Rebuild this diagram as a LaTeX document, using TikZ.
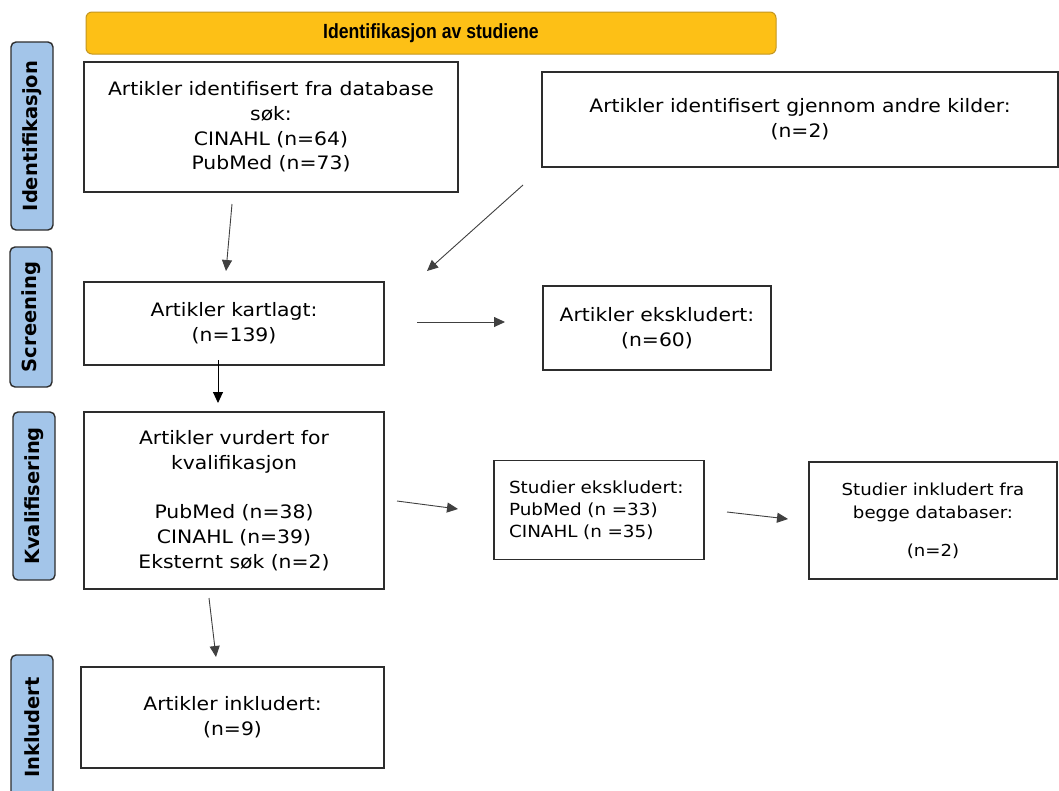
\documentclass[tikz,border=0pt]{standalone}
\usepackage{fontspec}
\setmainfont[FakeStretch=1.1]{DejaVu Sans}
\newfontfamily\phasefont{DejaVu Sans}
\newfontfamily\bannerfont[FakeStretch=0.86]{Liberation Sans}
\usepackage{tikz}
\usetikzlibrary{arrows.meta,positioning,calc}
\definecolor{prisyellow}{RGB}{253,192,22}
\definecolor{prisgold}{RGB}{196,150,30}
\definecolor{prisblue}{RGB}{163,197,233}
\definecolor{prisline}{RGB}{45,45,45}

\begin{document}
\begin{tikzpicture}[
    x=1pt, y=-1pt,
    >={Triangle[length=11pt,width=10pt]},
    box/.style={draw=prisline, line width=1.4pt, align=center, inner sep=0pt, font=\fontsize{18.5}{24.7}\selectfont},
    phase/.style={draw=prisline, line width=1.4pt, fill=prisblue, rounded corners=5pt, rotate=90, inner sep=0pt, minimum height=42pt, font=\phasefont\bfseries\fontsize{19.5}{22}\selectfont},
    banner/.style={draw=prisgold, line width=1pt, fill=prisyellow, rounded corners=6pt, font=\bannerfont\bfseries\fontsize{20.5}{22}\selectfont},
    arr/.style={->, line width=0.9pt, draw=black!75}
]
    \useasboundingbox[fill=white] (0,0) rectangle (1059,790);

    \node[banner, minimum width=690pt, minimum height=42pt] (head) at (431,33) {Identifikasjon av studiene};

    \node[phase, minimum width=188pt] (pid) at (32,136) {Identifikasjon};
    \node[phase, minimum width=140pt] (pscr) at (31,317) {Screening};
    \node[phase, minimum width=168pt] (pkval) at (34,496) {Kvalifisering};
    \node[phase, minimum width=145pt] (pinkl) at (32,727.5) {Inkludert};

    \node[box, minimum width=374pt, minimum height=130pt] (db) at (271,127) {Artikler identifisert fra database\\søk:\\CINAHL (n=64)\\PubMed (n=73)};
    \node[box, minimum width=516pt, minimum height=95pt] (other) at (800,119.5) {Artikler identifisert gjennom andre kilder:\\(n=2)};
    \node[box, minimum width=300pt, minimum height=83pt] (kart) at (234,323.5) {Artikler kartlagt:\\(n=139)};
    \node[box, minimum width=228pt, minimum height=84pt] (eksk) at (657,328) {Artikler ekskludert:\\(n=60)};
    \node[box, minimum width=300pt, minimum height=177pt] (vurd) at (234,500.5) {Artikler vurdert for\\kvalifikasjon\\[24.7pt]PubMed (n=38)\\CINAHL (n=39)\\Eksternt søk (n=2)};
    \node[box, minimum width=210pt, minimum height=99pt, text width=180pt, align=left, font=\fontsize{16.7}{22}\selectfont] (studeks) at (599,510) {Studier ekskludert:\\PubMed (n =33)\\CINAHL (n =35)};
    \node[box, minimum width=248pt, minimum height=117pt, font=\fontsize{16.5}{23}\selectfont] (studinkl) at (933,520.5) {Studier inkludert fra\\begge databaser:\\[15pt](n=2)};
    \node[box, minimum width=303pt, minimum height=101pt] (inkl) at (232.5,717.5) {Artikler inkludert:\\(n=9)};

    \coordinate (db-out) at (232,204);
    \coordinate (other-out) at (523,185);
    \coordinate (kart-in) at (226,271);
    \coordinate (kart-in2) at (427,271);
    \coordinate (kart-right) at (417,322);
    \coordinate (eksk-in) at (505,322);
    \coordinate (kart-out) at (218,360);
    \coordinate (vurd-in) at (218,403);
    \coordinate (vurd-right) at (397,501);
    \coordinate (studeks-in) at (458,509);
    \coordinate (studeks-right) at (727,512);
    \coordinate (studinkl-in) at (788,519);
    \coordinate (vurd-out) at (209,598);
    \coordinate (inkl-in) at (216,657);

    \draw[arr] (db-out) -- (kart-in);
    \draw[arr] (other-out) -- (kart-in2);
    \draw[arr] (kart-right) -- (eksk-in);
    \draw[arr, draw=black] (kart-out) -- (vurd-in);
    \draw[arr] (vurd-right) -- (studeks-in);
    \draw[arr] (studeks-right) -- (studinkl-in);
    \draw[arr] (vurd-out) -- (inkl-in);
\end{tikzpicture}
\end{document}
